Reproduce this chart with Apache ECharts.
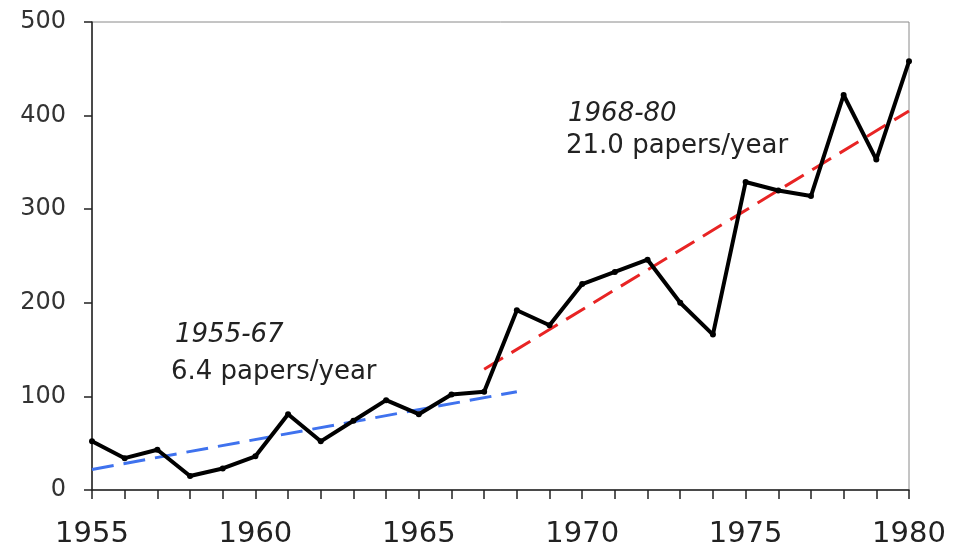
<!DOCTYPE html>
<html>
<head>
<meta charset="utf-8">
<script src="https://cdn.jsdelivr.net/npm/echarts@6/dist/echarts.min.js"></script>
<style>
  html, body { margin: 0; padding: 0; background: #fff; }
  #chart { width: 964px; height: 550px; }
</style>
</head>
<body>
<div id="chart"></div>
<script>
// papers per year
var years = [1955, 1956, 1957, 1958, 1959, 1960, 1961, 1962, 1963, 1964, 1965, 1966, 1967,
             1968, 1969, 1970, 1971, 1972, 1973, 1974, 1975, 1976, 1977, 1978, 1979, 1980];
var papers = [52, 34, 43, 15, 23, 36, 81, 52, 74, 96, 81, 102, 105,
              192, 176, 220, 233, 246, 200, 166, 329, 320, 314, 422, 353, 458];

// fitted trends (end points)
var trendEarly = [[1955, 22], [1968, 105]];
var trendLate = [[1967, 129], [1980, 405]];

var yTicks = [0, 100, 200, 300, 400, 500];

var myChart = echarts.init(document.getElementById("chart"));

var option = {
  animation: false,
  backgroundColor: "#fff",
  grid: {
    left: 92,
    right: 55,
    top: 22,
    bottom: 60,
    show: true,
    borderColor: "#8a8a8a",
    borderWidth: 1,
  },
  xAxis: {
    type: "value",
    min: 1955,
    max: 1980,
    interval: 5,
    axisLine: { lineStyle: { color: "#222", width: 1.5 } },
    axisTick: { show: true, length: 9, lineStyle: { color: "#222", width: 1.5 } },
    minorTick: { show: true, splitNumber: 5, length: 9, lineStyle: { color: "#222", width: 1.5 } },
    splitLine: { show: false },
    axisLabel: {
      color: "#222",
      fontFamily: "DejaVu Sans",
      fontSize: 29,
      margin: 30,
      formatter: function (v) { return String(v); },
    },
  },
  yAxis: {
    type: "value",
    min: yTicks[0],
    max: yTicks[yTicks.length - 1],
    interval: 100,
    axisLine: { show: true, lineStyle: { color: "#222", width: 1.5 } },
    axisTick: { show: true, length: 8, lineStyle: { color: "#222", width: 1.5 } },
    splitLine: { show: false },
    axisLabel: {
      color: "#333",
      fontFamily: "DejaVu Sans",
      fontSize: 24,
      margin: 26,
    },
  },
  graphic: [
    { type: "text", left: 175, top: 322, style: { text: "1955-67", font: "italic 26px 'DejaVu Sans'", fill: "#222" } },
    { type: "text", left: 171, top: 359, style: { text: "6.4 papers/year", font: "26px 'DejaVu Sans'", fill: "#222" } },
    { type: "text", left: 568, top: 101, style: { text: "1968-80", font: "italic 26px 'DejaVu Sans'", fill: "#222" } },
    { type: "text", left: 566, top: 133, style: { text: "21.0 papers/year", font: "26px 'DejaVu Sans'", fill: "#222" } },
  ],
  series: [
    {
      type: "line",
      data: trendEarly,
      symbol: "none",
      lineStyle: { color: "#3f72ee", width: 3, type: [22, 10] },
      z: 2,
    },
    {
      type: "line",
      data: trendLate,
      symbol: "none",
      lineStyle: { color: "#e82424", width: 3, type: [22, 10] },
      z: 2,
    },
    {
      type: "line",
      data: years.map(function (y, i) { return [y, papers[i]]; }),
      symbol: "circle",
      symbolSize: 6,
      itemStyle: { color: "#000" },
      lineStyle: { color: "#000", width: 4 },
      z: 3,
    },
  ],
};
myChart.setOption(option);
window.addEventListener("resize", function () {
  myChart.resize();
});
</script>
</body>
</html>
